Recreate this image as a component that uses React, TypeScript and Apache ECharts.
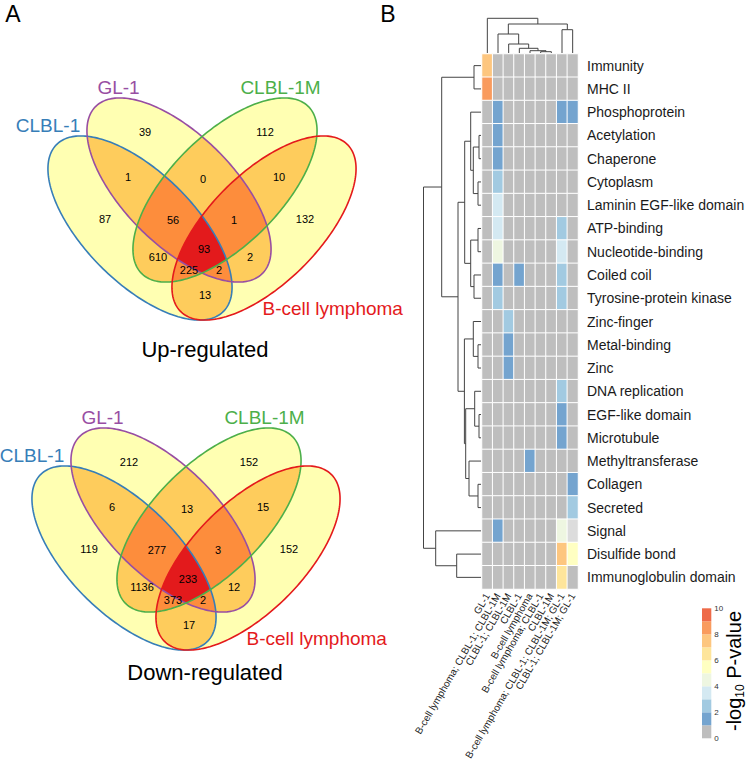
import React, { useEffect, useRef } from "react";
import * as echarts from "echarts";

const FONT = "'Liberation Sans', Arial, Helvetica, sans-serif";

// ---------------- Panel A: Venn data ----------------
const SET_NAMES = ["CLBL-1", "GL-1", "CLBL-1M", "B-cell lymphoma"];
const SET_COLORS = ["#377EB8", "#984EA3", "#4DAF4A", "#E41A1C"];
const OVERLAP_COLORS = ["#FFFFB2", "#FECC5C", "#FD8D3C", "#E31A1C"];
// region membership (A=CLBL-1, B=GL-1, C=CLBL-1M, D=B-cell lymphoma)
const REGIONS = ["B", "C", "AB", "BC", "CD", "A", "ABC", "BCD", "D", "ABCD", "AC", "BD", "ACD", "ABD", "AD"];
const UP_COUNTS = [39, 112, 1, 0, 10, 87, 56, 1, 132, 93, 610, 2, 225, 2, 13];
const DOWN_COUNTS = [212, 152, 6, 13, 15, 119, 277, 3, 152, 233, 1136, 12, 373, 2, 17];
const VENN_TITLES = ["Up-regulated", "Down-regulated"];

// ---------------- Panel B: heatmap data ----------------
const ROW_LABELS = [
  "Immunity", "MHC II", "Phosphoprotein", "Acetylation", "Chaperone", "Cytoplasm",
  "Laminin EGF-like domain", "ATP-binding", "Nucleotide-binding", "Coiled coil",
  "Tyrosine-protein kinase", "Zinc-finger", "Metal-binding", "Zinc", "DNA replication",
  "EGF-like domain", "Microtubule", "Methyltransferase", "Collagen", "Secreted",
  "Signal", "Disulfide bond", "Immunoglobulin domain",
];
const COLUMN_LABELS = [
  "GL-1",
  "B-cell lymphoma; CLBL-1; CLBL-1M",
  "CLBL-1; CLBL-1M",
  "CLBL-1",
  "B-cell lymphoma",
  "B-cell lymphoma; CLBL-1",
  "CLBL-1M",
  "B-cell lymphoma; CLBL-1; CLBL-1M; GL-1",
  "CLBL-1; CLBL-1M; GL-1",
];
// -log10 P-value per row / column (-1 = not available)
const LOG_P = [
  [7.5, 0, 0, 0, 0, 0, 0, 0, 0],
  [8.5, 0, 0, 0, 0, 0, 0, 0, 0],
  [0, 1.5, 0, 0, 0, 0, 0, 1.5, 1.5],
  [0, 1.5, 0, 0, 0, 0, 0, 0, 0],
  [0, 1.5, 0, 0, 0, 0, 0, 0, 0],
  [0, 2.5, 0, 0, 0, 0, 0, 0, 0],
  [0, 3.5, 0, 0, 0, 0, 0, 0, 0],
  [0, 3.5, 0, 0, 0, 0, 0, 2.5, 0],
  [0, 4.5, 0, 0, 0, 0, 0, 3.5, 0],
  [0, 1.5, 0, 1.5, 0, 0, 0, 2.5, 0],
  [0, 2.5, 0, 0, 0, 0, 0, 2.5, 0],
  [0, 0, 2.5, 0, 0, 0, 0, 0, 0],
  [0, 0, 1.5, 0, 0, 0, 0, 0, 0],
  [0, 0, 1.5, 0, 0, 0, 0, 0, 0],
  [0, 0, 0, 0, 0, 0, 0, 2.5, 0],
  [0, 0, 0, 0, 0, 0, 0, 1.5, 0],
  [0, 0, 0, 0, 0, 0, 0, 1.5, 0],
  [0, 0, 0, 0, 1.5, 0, 0, 0, 0],
  [0, 0, 0, 0, 0, 0, 0, 0, 1.5],
  [0, 0, 0, 0, 0, 0, 0, 0, 2.5],
  [0, 1.5, 0, 0, 0, 0, 0, 4.5, -1],
  [0, 0, 0, 0, 0, 0, 0, 7.5, 5.5],
  [0, 0, 0, 0, 0, 0, 0, 6.5, 0],
];
const SCALE_COLORS = [
  "#BEBEBE", "#74A4CF", "#A2CAE1", "#D4E9F2", "#EEF6E1",
  "#FFFFC2", "#FEE59B", "#FDC67F", "#F99B5E", "#EE6A48",
];
const NA_COLOR = "#DCDCDC";
const SCALE_TICKS = [0, 2, 4, 6, 8, 10];

// dendrograms: leaves are indices, internal nodes {h, c}
type Node = number | { h: number; c: [Node, Node] };
const n = (h: number, a: Node, b: Node): Node => ({ h, c: [a, b] });
const ROW_TREE: Node = n(57.5,
  n(39.3,
    n(7, 0, 1),
    n(23,
      n(16.3,
        n(10.3, 2, n(7.7, n(2, 3, 4), n(3, 5, 6))),
        n(10.3, n(3, 7, 8), n(7, 9, 10))
      ),
      n(16.6,
        n(7.7, 11, n(3, 12, 13)),
        n(15.3, n(6.3, 14, n(2, 15, 16)), n(12, 17, n(3, 18, 19)))
      )
    )
  ),
  n(45.3, 20, n(24.3, 21, 22))
);
const COL_TREE: Node = n(34.7,
  0,
  n(29,
    n(19, 1, n(9, 2, n(4.7, 3, n(2.3, 4, n(1.3, 5, 6))))),
    n(23.3, 7, 8)
  )
);

// ---------------- layout ----------------
const VENN_CENTERS = [[202, 228], [186, 558]];
const TITLE_POS = [[205, 349], [205, 672]];
const ELLIPSES = [
  { dx: -62, dy: 0, rot: 45 },
  { dx: -23, dy: -38, rot: 45 },
  { dx: 23, dy: -38, rot: -45 },
  { dx: 62, dy: 0, rot: -45 },
];
const ELL_A = 118;
const ELL_B = 55;
const REGION_OFFSETS = [
  [-57, -96], [63, -96], [-74, -51], [1, -49], [77, -51], [-97, -9], [-29, -8],
  [32, -8], [103, -9], [2, 21], [-44, 29], [48, 29], [-13, 42], [17, 42], [3, 67],
];
const SET_LABEL_OFFSETS = [[-154, -103], [-83.5, -140.5], [78.5, -140.5], [60.5, 80]];

function ellipsePoints(cx: number, cy: number, rotDeg: number): number[][] {
  const N = 240;
  const phi = (rotDeg * Math.PI) / 180;
  const c = Math.cos(phi), s = Math.sin(phi);
  const pts: number[][] = [];
  for (let i = 0; i < N; i++) {
    const t = (2 * Math.PI * i) / N;
    const u = ELL_A * Math.cos(t), v = ELL_B * Math.sin(t);
    pts.push([cx + u * c - v * s, cy + u * s + v * c]);
  }
  return pts;
}
function signedArea(p: number[][]) {
  let a = 0;
  for (let i = 0; i < p.length; i++) {
    const q = p[i], r = p[(i + 1) % p.length];
    a += q[0] * r[1] - r[0] * q[1];
  }
  return a;
}
function lineIntersect(p1: number[], p2: number[], a: number[], b: number[]) {
  const d1x = p2[0] - p1[0], d1y = p2[1] - p1[1];
  const d2x = b[0] - a[0], d2y = b[1] - a[1];
  const den = d1x * d2y - d1y * d2x;
  if (Math.abs(den) < 1e-12) return p2.slice();
  const t = ((a[0] - p1[0]) * d2y - (a[1] - p1[1]) * d2x) / den;
  return [p1[0] + t * d1x, p1[1] + t * d1y];
}
function clipConvex(subject: number[][], clip: number[][]) {
  const sgn = Math.sign(signedArea(clip));
  let out = subject;
  for (let i = 0; i < clip.length; i++) {
    if (!out.length) break;
    const a = clip[i], b = clip[(i + 1) % clip.length];
    const inside = (p: number[]) =>
      ((b[0] - a[0]) * (p[1] - a[1]) - (b[1] - a[1]) * (p[0] - a[0])) * sgn >= 0;
    const input = out;
    out = [];
    for (let j = 0; j < input.length; j++) {
      const cur = input[j], prev = input[(j + input.length - 1) % input.length];
      const ci = inside(cur), pi = inside(prev);
      if (ci) {
        if (!pi) out.push(lineIntersect(prev, cur, a, b));
        out.push(cur);
      } else if (pi) out.push(lineIntersect(prev, cur, a, b));
    }
  }
  return out;
}
function combos(k: number): number[][] {
  const res: number[][] = [];
  const rec = (start: number, acc: number[]) => {
    if (acc.length === k) { res.push(acc.slice()); return; }
    for (let i = start; i < 4; i++) { acc.push(i); rec(i + 1, acc); acc.pop(); }
  };
  rec(0, []);
  return res;
}

function vennElements(vi: number, counts: number[]) {
  const [cx, cy] = VENN_CENTERS[vi];
  const polys = ELLIPSES.map((e) => ellipsePoints(cx + e.dx, cy + e.dy, e.rot));
  const els: any[] = [];
  for (let k = 1; k <= 4; k++) {
    for (const cmb of combos(k)) {
      let p = polys[cmb[0]];
      for (let i = 1; i < cmb.length; i++) p = clipConvex(p, polys[cmb[i]]);
      if (p.length > 2)
        els.push({ type: "polygon", silent: true, shape: { points: p }, style: { fill: OVERLAP_COLORS[k - 1], stroke: "none" } });
    }
  }
  polys.forEach((p, i) =>
    els.push({ type: "polygon", silent: true, shape: { points: p }, style: { fill: "none", stroke: SET_COLORS[i], lineWidth: 1.6 } })
  );
  REGIONS.forEach((r, i) => {
    els.push({
      type: "text", silent: true,
      x: cx + REGION_OFFSETS[i][0], y: cy + REGION_OFFSETS[i][1],
      style: { text: String(counts[i]), fill: "#000", fontSize: 11, fontFamily: FONT, align: "center", verticalAlign: "middle" },
    });
  });
  SET_NAMES.forEach((name, i) => {
    els.push({
      type: "text", silent: true,
      x: cx + SET_LABEL_OFFSETS[i][0], y: cy + SET_LABEL_OFFSETS[i][1],
      style: { text: name, fill: SET_COLORS[i], fontSize: 19, fontFamily: FONT, align: i === 3 ? "left" : "center", verticalAlign: "middle" },
    });
  });
  els.push({
    type: "text", silent: true, x: TITLE_POS[vi][0], y: TITLE_POS[vi][1],
    style: { text: VENN_TITLES[vi], fill: "#000", fontSize: 22, fontFamily: FONT, align: "center", verticalAlign: "middle" },
  });
  return els;
}

function dendroElements(tree: Node, leafPos: (i: number) => number, toPt: (pos: number, h: number) => number[]) {
  const els: any[] = [];
  const walk = (node: Node): { pos: number; h: number } => {
    if (typeof node === "number") return { pos: leafPos(node), h: 0 };
    const a = walk(node.c[0]);
    const b = walk(node.c[1]);
    els.push({
      type: "polyline", silent: true,
      shape: { points: [toPt(a.pos, a.h), toPt(a.pos, node.h), toPt(b.pos, node.h), toPt(b.pos, b.h)] },
      style: { stroke: "#444", lineWidth: 1, fill: "none" },
    });
    return { pos: (a.pos + b.pos) / 2, h: node.h };
  };
  walk(tree);
  return els;
}

export default function App() {
  const ref = useRef<HTMLDivElement>(null);
  useEffect(() => {
    if (!ref.current) return;
    const chart = echarts.init(ref.current, null, { renderer: "svg" });
    const cells: any[] = [];
    LOG_P.forEach((row, r) => row.forEach((v, c) => cells.push([c, r, v])));
    const pieces: any[] = SCALE_COLORS.map((color, i) =>
      i === SCALE_COLORS.length - 1 ? { gte: i, lte: i + 1, color } : { gte: i, lt: i + 1, color }
    );
    pieces.push({ lt: 0, color: NA_COLOR });
    chart.setOption({
      animation: false,
      textStyle: { fontFamily: FONT },
      grid: { left: 482, top: 54, width: 96, height: 535 },
      xAxis: {
        type: "category", data: COLUMN_LABELS,
        axisLine: { show: false }, axisTick: { show: false }, splitLine: { show: false },
        axisLabel: { rotate: 60, fontSize: 10, color: "#222", margin: 5, interval: 0, fontFamily: FONT },
      },
      yAxis: {
        type: "category", data: ROW_LABELS, inverse: true, position: "right",
        axisLine: { show: false }, axisTick: { show: false }, splitLine: { show: false },
        axisLabel: { fontSize: 14, color: "#1a1a1a", margin: 9, interval: 0, fontFamily: FONT },
      },
      visualMap: { type: "piecewise", show: false, dimension: 2, seriesIndex: 0, pieces },
      series: [{ type: "heatmap", data: cells, itemStyle: { borderColor: "#fff", borderWidth: 1 } }],
    });

    const p00 = chart.convertToPixel({ gridIndex: 0 }, [0, 0]) as number[];
    const p11 = chart.convertToPixel({ gridIndex: 0 }, [1, 1]) as number[];
    const bw = p11[0] - p00[0], bh = p11[1] - p00[1];
    const left = p00[0] - bw / 2, top = p00[1] - bh / 2;

    const graphic: any[] = [];
    graphic.push(...vennElements(0, UP_COUNTS));
    graphic.push(...vennElements(1, DOWN_COUNTS));
    graphic.push(...dendroElements(
      ROW_TREE,
      (i) => (chart.convertToPixel({ gridIndex: 0 }, [0, i]) as number[])[1],
      (pos, h) => [left - 1 - h, pos]
    ));
    graphic.push(...dendroElements(
      COL_TREE,
      (i) => (chart.convertToPixel({ gridIndex: 0 }, [i, 0]) as number[])[0],
      (pos, h) => [pos, top - 1 - h]
    ));
    // panel letters
    graphic.push({ type: "text", silent: true, x: 13, y: 14, style: { text: "A", fill: "#000", fontSize: 23, fontFamily: FONT, align: "center", verticalAlign: "middle" } });
    graphic.push({ type: "text", silent: true, x: 388, y: 14, style: { text: "B", fill: "#000", fontSize: 23, fontFamily: FONT, align: "center", verticalAlign: "middle" } });
    // colour-scale legend
    const lx = 702, lw = 9.3, lBottom = 738.3, step = 13;
    SCALE_COLORS.forEach((color, i) => {
      graphic.push({ type: "rect", silent: true, shape: { x: lx, y: lBottom - (i + 1) * step, width: lw, height: step }, style: { fill: color } });
    });
    SCALE_TICKS.forEach((t) => {
      graphic.push({ type: "text", silent: true, x: lx + lw + 3, y: lBottom - t * step, style: { text: String(t), fill: "#333", fontSize: 8, fontFamily: FONT, align: "left", verticalAlign: "middle" } });
    });
    graphic.push({
      type: "text", silent: true, x: 735, y: 671, rotation: Math.PI / 2,
      style: {
        text: "{a|-log}{s|10}{a| P-value}",
        align: "center", verticalAlign: "middle", fill: "#000",
        rich: {
          a: { fontSize: 20, fontFamily: FONT, lineHeight: 22, verticalAlign: "top", fill: "#000" },
          s: { fontSize: 12, fontFamily: FONT, lineHeight: 12, verticalAlign: "bottom", fill: "#000" },
        },
      },
    });
    chart.setOption({ graphic });
    return () => chart.dispose();
  }, []);
  return <div ref={ref} style={{ position: "fixed", left: 0, top: 0, width: 750, height: 765, background: "#fff" }} />;
}
